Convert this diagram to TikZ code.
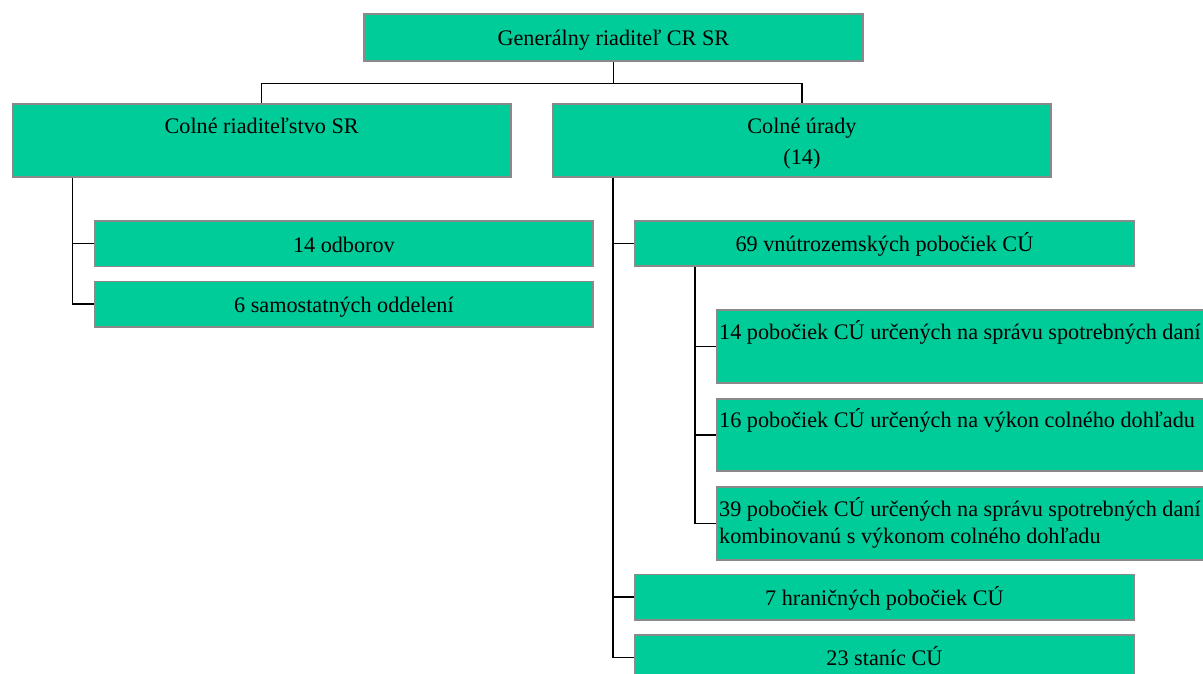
\documentclass[tikz,border=0pt]{standalone}
\usepackage{fontspec}
\setmainfont{Liberation Serif}
\definecolor{boxfill}{RGB}{0,204,153}
\definecolor{boxline}{RGB}{138,138,138}
\begin{document}
\begin{tikzpicture}[x=1pt,y=-1pt,
  box/.style={draw=boxline, line width=1.8pt, fill=boxfill, rectangle, inner sep=0pt,
    anchor=north west, font=\fontsize{22.2}{27}\selectfont, text height=17pt, text depth=0pt},
  lbl/.style={inner sep=0pt, font=\fontsize{22.2}{27}\selectfont},
  conn/.style={draw=black, line width=1.5pt}]
\useasboundingbox[fill=white] (0,0) rectangle (1203,673);
\clip (0,0) rectangle (1203,673);
% boxes
\node[box, minimum width=499pt, minimum height=47pt] (gr) at (363,13) {Generálny riaditeľ CR SR};
\node[box, minimum width=498.5pt, minimum height=73pt] (crs) at (11.5,103) {};
\node[box, minimum width=498pt, minimum height=73pt] (cu) at (552,103) {};
\node[box, minimum width=498pt, minimum height=45.5pt] (odb) at (94,220) {14 odborov};
\node[box, minimum width=498pt, minimum height=45.5pt] (sam) at (94,280.5) {6 samostatných oddelení};
\node[box, minimum width=499pt, minimum height=45pt] (vnu) at (634,220) {69 vnútrozemských pobočiek CÚ};
\node[box, minimum width=510pt, minimum height=73pt] (p14) at (716,309) {};
\node[box, minimum width=510pt, minimum height=72pt] (p16) at (716,398) {};
\node[box, minimum width=510pt, minimum height=73pt] (p39) at (716,486) {};
\node[box, minimum width=499pt, minimum height=45.5pt] (hra) at (634,573.5) {7 hraničných pobočiek CÚ};
\node[box, minimum width=499pt, minimum height=45pt] (sta) at (634,634) {23 staníc CÚ};
% top-aligned texts
\node[lbl, anchor=base] (crst) at ([yshift=-30pt]crs.north) {Colné riaditeľstvo SR};
\node[lbl, anchor=base] (cut1) at ([yshift=-30pt]cu.north) {Colné úrady};
\node[lbl, anchor=base] (cut2) at ([yshift=-61pt]cu.north) {(14)};
\node[lbl, anchor=base west] (p14t) at ([xshift=3pt,yshift=-30pt]p14.north west) {14 pobočiek CÚ určených na správu spotrebných daní};
\node[lbl, anchor=base west] (p16t) at ([xshift=3pt,yshift=-29pt]p16.north west) {16 pobočiek CÚ určených na výkon colného dohľadu};
\node[lbl, anchor=base west] (p39t1) at ([xshift=3pt,yshift=-30pt]p39.north west) {39 pobočiek CÚ určených na správu spotrebných daní};
\node[lbl, anchor=base west] (p39t2) at ([xshift=3pt,yshift=-57pt]p39.north west) {kombinovanú s výkonom colného dohľadu};
% connectors
\coordinate (bus) at ([yshift=-21.5pt]gr.south);
\draw[conn] (gr.south) -- (bus);
\draw[conn] (crs.north) |- (bus) -| (cu.north);
\coordinate (crsx) at ([xshift=61pt]crs.south west);
\draw[conn] (crsx) |- (odb.west);
\draw[conn] (crsx) |- (sam.west);
\coordinate (cux) at ([xshift=61pt]cu.south west);
\draw[conn] (cux) |- (vnu.west);
\draw[conn] (cux) |- (hra.west);
\draw[conn] (cux) |- (sta.west);
\coordinate (vnux) at ([xshift=61pt]vnu.south west);
\draw[conn] (vnux) |- (p14.west);
\draw[conn] (vnux) |- (p16.west);
\draw[conn] (vnux) |- (p39.west);
\end{tikzpicture}
\end{document}
